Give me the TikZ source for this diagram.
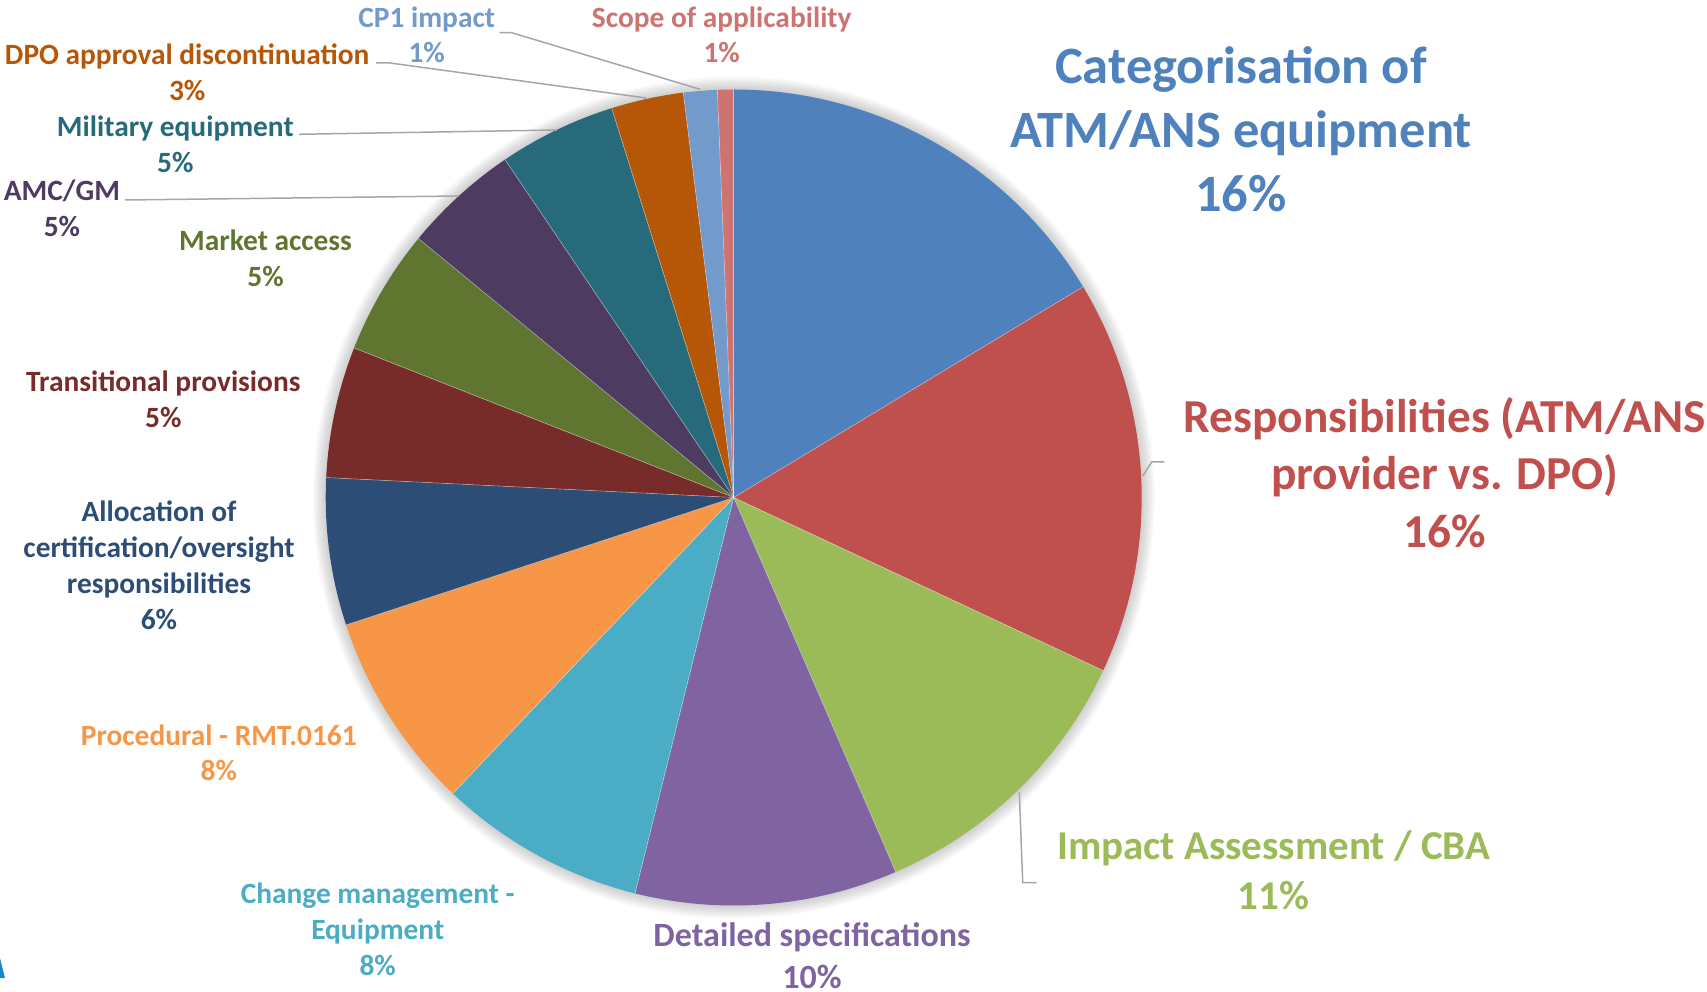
\documentclass[tikz,border=0pt]{standalone}
\usepackage{fontspec}
\setmainfont{Carlito}
\definecolor{s1}{HTML}{4F81BD}
\definecolor{s2}{HTML}{C0504D}
\definecolor{s3}{HTML}{9BBB59}
\definecolor{s4}{HTML}{8064A2}
\definecolor{s5}{HTML}{4BACC6}
\definecolor{s6}{HTML}{F79646}
\definecolor{s7}{HTML}{2C4D75}
\definecolor{s8}{HTML}{772C2A}
\definecolor{s9}{HTML}{5F7530}
\definecolor{s10}{HTML}{4D3B62}
\definecolor{s11}{HTML}{276A7C}
\definecolor{s12}{HTML}{B65708}
\definecolor{s13}{HTML}{729ACA}
\definecolor{s14}{HTML}{CD7371}
\definecolor{ldr}{HTML}{A6A6A6}
\definecolor{logo}{HTML}{1A86C8}
\begin{document}
\begin{tikzpicture}[x=1pt,y=1pt,
  lbl/.style={font=\bfseries\fontsize{29.4}{35.9}\selectfont, align=center, inner sep=0pt},
  lblmid/.style={font=\bfseries\fontsize{34}{41.4}\selectfont, align=center, inner sep=0pt},
  lblbig/.style={font=\bfseries\fontsize{41}{50}\selectfont, align=center, inner sep=0pt},
  lblhuge/.style={font=\bfseries\fontsize{47.3}{57.7}\selectfont, align=center, inner sep=0pt},
  lbltitle/.style={font=\bfseries\fontsize{52.5}{64.2}\selectfont, align=center, inner sep=0pt},
  leader/.style={draw=ldr, line width=1.5pt}]
\useasboundingbox (0,0) rectangle (1707,991);
\clip (0,0) rectangle (1707,991);
\coordinate (c) at (733.7,493.5);
% soft shadow
\foreach \i in {1,...,10}{
  \fill[black, opacity=0.018] (c) circle ({408+\i*1.3});
}
% slices
\foreach \s/\e/\col in {0/58.9/s1, 58.9/115.1/s2, 115.1/156.6/s3, 156.6/194.0/s4,
  194.0/223.5/s5, 223.5/251.8/s6, 251.8/272.8/s7, 272.8/291.5/s8, 291.5/309.4/s9,
  309.4/325.9/s10, 325.9/342.6/s11, 342.6/352.9/s12, 352.9/357.7/s13, 357.7/360/s14}{
  \fill[\col] (c) -- ++({90-\s}:408) arc[start angle={90-\s}, end angle={90-\e}, radius=408] -- cycle;
}
\foreach \e in {0,58.9,115.1,156.6,194.0,223.5,251.8,272.8,291.5,309.4,325.9,342.6,352.9,357.7}{
  \draw[white, opacity=0.45, line width=0.6pt] (c) -- ++({90-\e}:408);
}
% labels
\node[lbltitle, text=s1] (cat) at (1241,861.5) {Categorisation of\\ATM/ANS equipment\\16\%};
\node[lblhuge, text=s2] (resp) at (1444.6,518.5) {Responsibilities (ATM/ANS\\provider vs. DPO)\\16\%};
\node[lblbig, text=s3] (imp) at (1273.7,121.2) {Impact Assessment / CBA\\11\%};
\node[lblmid, text=s4] (det) at (812,35.2) {Detailed specifications\\10\%};
\node[lbl, text=s5] (chg) at (377.7,61.3) {Change management -\\Equipment\\8\%};
\node[lbl, text=s6] (proc) at (218.8,238.2) {Procedural - RMT.0161\\8\%};
\node[lbl, text=s7] (alloc) at (159,425.5) {Allocation of\\certification/oversight\\responsibilities\\6\%};
\node[lbl, text=s8] (trans) at (163.3,591.5) {Transitional provisions\\5\%};
\node[lbl, text=s9] (mkt) at (265.6,732.5) {Market access\\5\%};
\node[lbl, text=s10] (amc) at (62,782.5) {AMC/GM\\5\%};
\node[lbl, text=s11] (mil) at (175.3,846.8) {Military equipment\\5\%};
\node[lbl, text=s12] (dpo) at (187.2,918.6) {DPO approval discontinuation\\3\%};
\node[lbl, text=s13] (cp1) at (426.7,956.2) {CP1 impact\\1\%};
\node[lbl, text=s14] (scope) at (721.7,956.2) {Scope of applicability\\1\%};
% leader lines
\coordinate (cp1a) at (499.7,958.3);
\coordinate (cp1b) at (511.6,958.3);
\coordinate (cp1e) at (700,901.7);
\draw[leader] (cp1a) -- (cp1b) -- (cp1e);
\coordinate (dpoa) at (376,928);
\coordinate (dpob) at (390,928);
\coordinate (dpoe) at (646,893);
\draw[leader] (dpoa) -- (dpob) -- (dpoe);
\coordinate (mila) at (299,856.7);
\coordinate (mile) at (557,861);
\draw[leader] (mila) -- (mile);
\coordinate (amca) at (125,791);
\coordinate (amce) at (459,795);
\draw[leader] (amca) -- (amce);
\coordinate (respe) at (1142.7,515);
\coordinate (respb) at (1151.7,529);
\coordinate (respa) at (1164.3,529);
\draw[leader] (respe) -- (respb) -- (respa);
\coordinate (impe) at (1019.3,199.3);
\coordinate (impb) at (1022.7,108.3);
\coordinate (impa) at (1036.7,108.3);
\draw[leader] (impe) -- (impb) -- (impa);
% logo fragment at lower left edge
\fill[logo] (0,33) -- (5,13) -- (0,13) -- cycle;
\end{tikzpicture}
\end{document}
